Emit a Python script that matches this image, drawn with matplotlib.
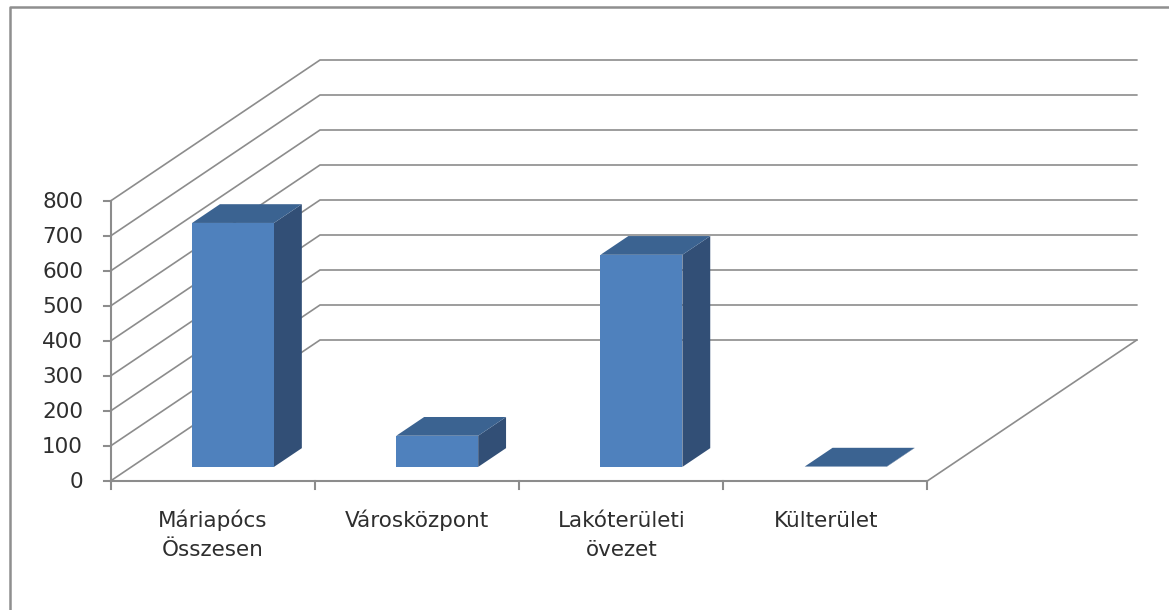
import matplotlib
matplotlib.use("Agg")
import matplotlib.pyplot as plt
from matplotlib.patches import Polygon

plt.rcParams['font.family'] = ['DejaVu Sans']

categories = ["Máriapócs\nÖsszesen", "Városközpont", "Lakóterületi\növezet", "Külterület"]
values = [697, 89, 606, 1]
y_ticks = [0, 100, 200, 300, 400, 500, 600, 700, 800]

# pseudo 3d layout, in pixels of the picture
x0, y0 = 110.5, 481
cat_w = 204.2
px_per_unit = 280 / 800
dx, dy = 209.5, -141
GRID = "#8c8c8c"
TEXT = "#2e2e2e"
FRONT = "#4f81bd"
TOP = "#3b6391"
SIDE = "#324f76"


def proj(cat, val, depth=0):
    # category position, value, depth 0..1 -> pixel
    return (x0 + cat * cat_w + depth * dx, y0 - val * px_per_unit + depth * dy)


fig = plt.figure(figsize=(11.69, 6.10), dpi=100)
ax = fig.add_axes([0, 0, 1, 1])
ax.set_xlim(0, 1169)
ax.set_ylim(610, 0)
ax.axis("off")

# outer chart frame
ax.plot([9.5, 9.5, 1169], [610, 7, 7], color="#8f8f8f", lw=1.8, solid_capstyle="butt")

n = len(categories)
# walls and gridlines
for t in y_ticks:
    ax.plot(*zip(proj(0, t, 0), proj(0, t, 1), proj(n, t, 1)), color=GRID, lw=1.2, solid_joinstyle="miter")
    px, py = proj(0, t, 0)
    ax.plot([px - 7, px], [py, py], color=GRID, lw=1.5)
    ax.text(83, py + 1, str(t), ha="right", va="center", fontsize=15.5, color=TEXT)

# floor and axes
ax.plot(*zip(proj(0, 0, 0), proj(0, 800, 0)), color=GRID, lw=1.5)
ax.plot(*zip(proj(0, 0, 0), proj(n, 0, 0)), color=GRID, lw=1.5)
ax.plot(*zip(proj(n, 0, 0), proj(n, 0, 1)), color=GRID, lw=1.2)
for i in range(n + 1):
    px, py = proj(i, 0, 0)
    ax.plot([px, px], [py, py + 8], color=GRID, lw=1.5)

# bars
gap, bar_w = 0.297, 0.401
d1, d2 = 0.1, 0.233
for i, v in enumerate(values):
    l, r = i + gap, i + gap + bar_w
    front = [proj(l, 0, d1), proj(r, 0, d1), proj(r, v, d1), proj(l, v, d1)]
    top = [proj(l, v, d1), proj(r, v, d1), proj(r, v, d2), proj(l, v, d2)]
    side = [proj(r, 0, d1), proj(r, 0, d2), proj(r, v, d2), proj(r, v, d1)]
    ax.add_patch(Polygon(side, closed=True, fc=SIDE, ec="none", zorder=3))
    ax.add_patch(Polygon(top, closed=True, fc=TOP, ec="none", zorder=3))
    ax.add_patch(Polygon(front, closed=True, fc=FRONT, ec="none", zorder=3))

# category labels, baseline is the one of the last line
for i, c in enumerate(categories):
    px, py = proj(i + 0.5, 0, 0)
    ax.text(px + 0.5, 527 + 29 * c.count("\n"), c, ha="center", va="baseline", fontsize=15.5, color=TEXT, linespacing=1.55)

fig.savefig("out.png", dpi=100)
